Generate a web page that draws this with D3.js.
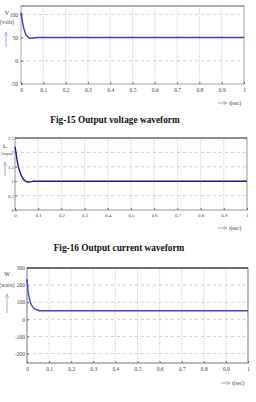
<!DOCTYPE html>
<html><head><meta charset="utf-8">
<script src="https://cdn.jsdelivr.net/npm/d3@7"></script>
<style>
html,body{margin:0;padding:0;background:#fff;}
svg{display:block;}
</style></head>
<body>
<script>
// ---- data ----
const timeTicks = [0,0.1,0.2,0.3,0.4,0.5,0.6,0.7,0.8,0.9,1];
const timeTickLabels = ["0","0.1","0.2","0.3","0.4","0.5","0.6","0.7","0.8","0.9","1"];

const voltageT = [0,0.005,0.01,0.015,0.02,0.03,0.04,0.05,0.06,0.08,0.2,0.5,1];
const voltageV = [104,88,75,66,59,52,48.5,48.5,49.5,50,50,50,50];
const voltageTicks = [100,50,0,-50];
const voltageTickLabels = ["100","50","0","-50"];

const currentT = [0,0.005,0.01,0.02,0.03,0.04,0.05,0.06,0.08,0.2,0.5,1];
const currentV = [2.2,1.95,1.68,1.35,1.15,1.03,0.98,0.97,1.0,1.0,1.0,1.0];
const currentTicks = [2.5,2,1.5,1,0.5,0];
const currentTickLabels = ["2.5","2","1.5","1","0.5","0"];

const powerT = [0,0.006,0.012,0.02,0.03,0.045,0.06,0.2,0.5,1];
const powerV = [235,155,115,85,66,56,50,50,50,50];
const powerTicks = [300,200,100,0,-100,-200];
const powerTickLabels = ["300","200","100","0","-100","-200"];

const captions = ["Fig-15 Output voltage waveform","Fig-16 Output current waveform","Fig-17 Output power waveform"];

// ---- drawing ----
const svg = d3.select("body").append("svg").attr("width",256).attr("height",402);
const defs = svg.append("defs");
defs.append("marker").attr("id","ah").attr("viewBox","0 0 6 6").attr("refX",5).attr("refY",3)
  .attr("markerWidth",5).attr("markerHeight",5).attr("orient","auto")
  .append("path").attr("d","M0,0.5 L5,3 L0,5.5").attr("fill","none").attr("stroke","#8aa6d6").attr("stroke-width",0.9);

function panel(o){
  const g = svg.append("g");
  const x = d3.scaleLinear().domain([0,1]).range([o.left,o.right]);
  const y = d3.scaleLinear().domain(o.ydom).range([o.bottom,o.top]);
  // grid
  g.selectAll(".gx").data(timeTicks.slice(1,-1)).enter().append("line")
    .attr("x1",d=>x(d)).attr("x2",d=>x(d)).attr("y1",o.top).attr("y2",o.bottom)
    .attr("stroke","#b8b8b8").attr("stroke-width",0.8).attr("stroke-dasharray","1,1.5");
  g.selectAll(".gy").data(o.ticks.filter(d=>y(d)>o.top+1 && y(d)<o.bottom-1)).enter().append("line")
    .attr("x1",o.left).attr("x2",o.right).attr("y1",d=>y(d)).attr("y2",d=>y(d))
    .attr("stroke","#c4c4c4").attr("stroke-width",0.8).attr("stroke-dasharray","3,3");
  // frame
  g.append("rect").attr("x",o.left).attr("y",o.top).attr("width",o.right-o.left).attr("height",o.bottom-o.top)
    .attr("fill","none").attr("stroke",o.frame).attr("stroke-width",0.9);
  g.append("line").attr("x1",o.left).attr("x2",o.right).attr("y1",o.top).attr("y2",o.top)
    .attr("stroke",o.topFrame).attr("stroke-width",1);
  // axes
  const ax = d3.axisBottom(x).tickValues(timeTicks).tickFormat((d,i)=>timeTickLabels[i]).tickSize(-2).tickPadding(4);
  const axg = g.append("g").attr("transform",`translate(0,${o.bottom})`).call(ax);
  const ay = d3.axisLeft(y).tickValues(o.ticks).tickFormat((d,i)=>o.labels[i]).tickSize(-2).tickPadding(o.pad);
  const ayg = g.append("g").attr("transform",`translate(${o.left},0)`).call(ay);
  [axg,ayg].forEach(a=>{
    a.select(".domain").remove();
    a.selectAll(".tick line").attr("stroke","#555").attr("stroke-width",0.8);
    a.selectAll("text").attr("font-family","Liberation Serif").attr("font-size",o.tickSize||5.5).attr("fill","#444");
  });
  // curve
  const line = d3.line().x((d,i)=>x(o.t[i])).y(d=>y(d)).curve(d3.curveMonotoneX);
  g.append("path").datum(o.v).attr("d",line).attr("fill","none")
    .attr("stroke",o.color).attr("stroke-width",1.4);
  // y label
  g.append("text").attr("x",o.ylx).attr("y",o.yly).attr("text-anchor","middle")
    .attr("font-family","Liberation Serif").attr("font-size",o.ylSize).attr("fill","#333").text(o.ylabel);
  g.append("text").attr("x",o.unitX||o.ylx).attr("y",o.yly+o.unitDy).attr("text-anchor","middle")
    .attr("font-family","Liberation Serif").attr("font-size",o.unitSize||5.5).attr("fill","#444").text(o.unit);
  g.append("line").attr("x1",o.arrowX).attr("x2",o.arrowX).attr("y1",o.arrowY1).attr("y2",o.arrowY0)
    .attr("stroke","#8aa6d6").attr("stroke-width",0.9).attr("marker-end","url(#ah)");
  // t(sec)
  g.append("line").attr("x1",o.tx).attr("x2",o.tx+9).attr("y1",o.ty-2).attr("y2",o.ty-2)
    .attr("stroke","#8aa6d6").attr("stroke-width",0.9).attr("marker-end","url(#ah)");
  g.append("text").attr("x",o.tx+11).attr("y",o.ty).attr("font-family","Liberation Serif")
    .attr("font-size",5.5).attr("fill","#444").text("t(sec)");
  // caption
  svg.append("text").attr("x",o.capX).attr("y",o.capY).attr("text-anchor","middle")
    .attr("font-family","Liberation Serif").attr("font-weight","bold").attr("font-size",9.3)
    .attr("fill","#111").text(o.caption);
}

panel({left:21,right:244,top:6,bottom:84,ydom:[-50,118],ticks:voltageTicks,labels:voltageTickLabels,pad:3,
  t:voltageT,v:voltageV,color:"#3c3cd0",frame:"#9a9a9a",topFrame:"#8a8a8a",
  ylabel:"V",ylSize:6,unit:"(volts)",ylx:7,yly:15,unitDy:9,arrowX:6,arrowY0:32,arrowY1:47,
  tx:218,ty:105,caption:captions[0],capX:115,capY:123});

panel({left:15,right:247,top:138,bottom:210,ydom:[0,2.5],ticks:currentTicks,labels:currentTickLabels,pad:1,tickSize:4.8,
  t:currentT,v:currentV,color:"#1e1ea0",frame:"#8a8a8a",topFrame:"#555",
  ylabel:"i\u2092",ylSize:7,unit:"(Amps)",unitSize:4.2,unitX:5.5,ylx:5,yly:148,unitDy:7,arrowX:5,arrowY0:162,arrowY1:176,
  tx:218,ty:230,caption:captions[1],capX:119,capY:251});

panel({left:27,right:248,top:268,bottom:363,ydom:[-255,300],ticks:powerTicks,labels:powerTickLabels,pad:2,
  t:powerT,v:powerV,color:"#4444e0",frame:"#666",topFrame:"#222",
  ylabel:"W",ylSize:6,unit:"(watts)",ylx:7,yly:276,unitDy:11,arrowX:7,arrowY0:294,arrowY1:313,
  tx:221,ty:385,caption:captions[2],capX:112,capY:410});
</script>
</body></html>
